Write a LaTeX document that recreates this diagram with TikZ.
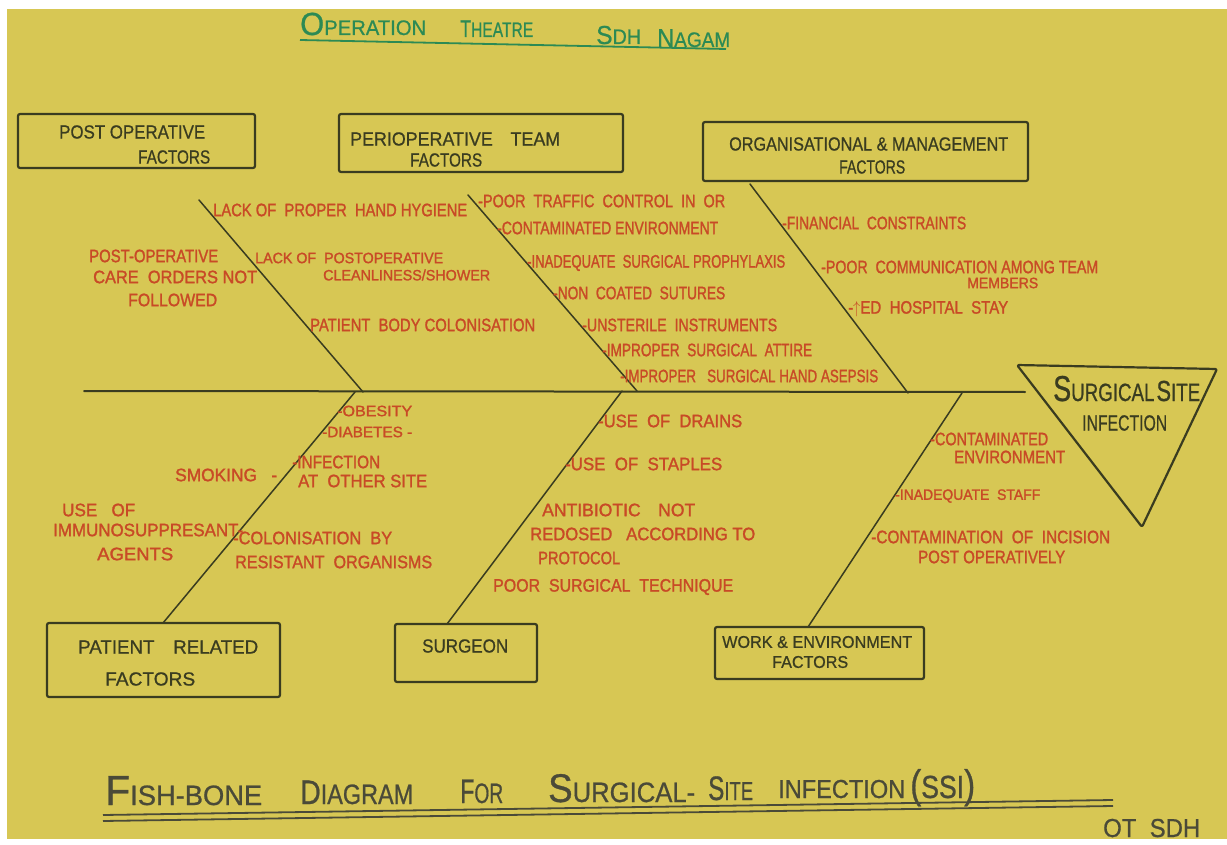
\documentclass[tikz,border=0pt]{standalone}
\usepackage{fontspec}
\usepackage{graphicx}
\setmainfont{Liberation Sans}
\newfontfamily\markerfont{Liberation Sans}[FakeBold=1.6]
\newfontfamily\penfont{Liberation Sans}[FakeBold=0.8]
\definecolor{paper}{RGB}{215,199,84}
\definecolor{redink}{RGB}{200,74,38}
\definecolor{ink}{RGB}{58,60,32}
\definecolor{greenink}{RGB}{44,138,84}
\definecolor{grayink}{RGB}{74,74,56}
\newcommand\fw[2]{\resizebox{#1pt}{\height}{#2}}
\newcommand\fsz[1]{\fontsize{#1}{#1}\selectfont}
\tikzset{
  rt/.style={text=redink, font=\markerfont\fsz{18}, inner sep=0pt, anchor=west},
  rts/.style={rt, font=\markerfont\fsz{15}},
  bt/.style={text=ink, font=\penfont\fsz{19}, inner sep=0pt, anchor=west},
  bx/.style={draw=ink, line width=2.2pt, rounded corners=2pt, line join=round},
  bone/.style={draw=ink, line width=1.5pt, line cap=round},
  spine/.style={draw=ink, line width=2pt, line cap=round},
  ttl/.style={inner sep=0pt, anchor=base west, font=\penfont}
}
\begin{document}
\begin{tikzpicture}[x=1pt,y=-1pt]
\useasboundingbox (0,0) rectangle (1227,845);
\fill[white] (0,0) rectangle (1227,845);
\fill[paper] (7,9) rectangle (1227,839);

% top title
\node[ttl, text=greenink] (h1) at (300,35) {\fw{126}{{\fsz{32}O}{\fsz{21}PERATION}}};
\node[ttl, text=greenink] (h2) at (460,37) {\fw{73}{{\fsz{24}T}{\fsz{21}HEATRE}}};
\node[ttl, text=greenink] (h3) at (596,44) {\fw{45}{{\fsz{26}S}{\fsz{21}DH}}};
\node[ttl, text=greenink] (h4) at (657,47) {\fw{73}{{\fsz{26}N}{\fsz{21}AGAM}}};
\coordinate (ul1) at (300,40);
\coordinate (ul2) at (726,49);
\draw[greenink, line width=1.8pt] (ul1) -- (ul2);

% boxes
\node[bx, minimum width=237pt, minimum height=54pt] (bpost) at (136.5,141) {};
\node[bx, minimum width=284pt, minimum height=58pt] (bperi) at (481,143) {};
\node[bx, minimum width=325pt, minimum height=59pt] (borg) at (865.5,151.5) {};
\node[bx, minimum width=233pt, minimum height=74pt] (bpat) at (163.5,660) {};
\node[bx, minimum width=142pt, minimum height=58pt] (bsur) at (466,653) {};
\node[bx, minimum width=209pt, minimum height=52pt] (bwork) at (819.5,653) {};

\node[bt] (l1a) at (59,132) {\fw{146}{POST OPERATIVE}};
\node[bt] (l1b) at (138,157) {\fw{72}{FACTORS}};
\node[bt] (l2a) at (350,139) {\fw{210}{PERIOPERATIVE\quad TEAM}};
\node[bt] (l2b) at (410,160) {\fw{72}{FACTORS}};
\node[bt] (l3a) at (729,144) {\fw{279}{ORGANISATIONAL \& MANAGEMENT}};
\node[bt] (l3b) at (839,167) {\fw{66}{FACTORS}};
\node[bt] (l4a) at (78,647) {\fw{180}{PATIENT\quad RELATED}};
\node[bt] (l4b) at (105,679) {\fw{90}{FACTORS}};
\node[bt] (l5a) at (422,646) {\fw{86}{SURGEON}};
\node[bt, font=\penfont\fsz{17}] (l6a) at (722,642) {\fw{190}{WORK \& ENVIRONMENT}};
\node[bt, font=\penfont\fsz{17}] (l6b) at (772,662) {\fw{76}{FACTORS}};

% head triangle
\coordinate (tA) at (1017,365);
\coordinate (tB) at (1217,369);
\coordinate (tC) at (1142,527);
\draw[bx] (tA) -- (tB) -- (tC) -- cycle;
\node[ttl, text=ink] (hd1) at (1053,401) {\fw{147}{{\fsz{36}S}{\fsz{25}URGICAL}\ {\fsz{29}S}{\fsz{25}ITE}}};
\node[bt, font=\penfont\fsz{22}] (hd2) at (1082,423) {\fw{85}{INFECTION}};

% spine and bones
\coordinate (spL) at (84,391);
\coordinate (spR) at (1025,392);
\draw[spine] (spL) -- (spR);
\coordinate (b1t) at (199,200); \coordinate (b1s) at (363,392);
\coordinate (b2t) at (468,195); \coordinate (b2s) at (637,391);
\coordinate (b3t) at (750,184); \coordinate (b3s) at (908,393);
\coordinate (b4s) at (355,392); \coordinate (b4e) at (163,623);
\coordinate (b5s) at (622,391); \coordinate (b5e) at (447,624);
\coordinate (b6s) at (962,393); \coordinate (b6e) at (808,627);
\draw[bone] (b1t) -- (b1s);
\draw[bone] (b2t) -- (b2s);
\draw[bone] (b3t) -- (b3s);
\draw[bone] (b4s) -- (b4e);
\draw[bone] (b5s) -- (b5e);
\draw[bone] (b6s) -- (b6e);

% post operative causes
\node[rt] (c11) at (213,210) {\fw{254}{LACK OF\ \ PROPER\ \ HAND HYGIENE}};
\node[rt] (c12a) at (89,256) {\fw{129}{POST-OPERATIVE}};
\node[rt] (c12b) at (93,277) {\fw{164}{CARE\ \ ORDERS NOT}};
\node[rt] (c12c) at (128,300) {\fw{89}{FOLLOWED}};
\node[rts] (c13a) at (255,258) {\fw{188}{LACK OF\ \ POSTOPERATIVE}};
\node[rts] (c13b) at (323,275) {\fw{167}{CLEANLINESS/SHOWER}};
\node[rt] (c14) at (310,325) {\fw{225}{PATIENT\ \ BODY COLONISATION}};

% perioperative team causes
\node[rt] (c21) at (478,201) {\fw{247}{-POOR\ \ TRAFFIC\ \ CONTROL\ \ IN\ \ OR}};
\node[rt] (c22) at (497,228) {\fw{221}{-CONTAMINATED ENVIRONMENT}};
\node[rt] (c23) at (527,263) {\fw{258}{-INADEQUATE\ \ SURGICAL PROPHYLAXIS}};
\node[rt] (c24) at (553,293) {\fw{172}{-NON\ \ COATED\ \ SUTURES}};
\node[rt] (c25) at (582,325) {\fw{195}{-UNSTERILE\ \ INSTRUMENTS}};
\node[rt] (c26) at (602,350) {\fw{210}{-IMPROPER\ \ SURGICAL\ \ ATTIRE}};
\node[rt] (c27) at (620,376) {\fw{258}{-IMPROPER\ \ \ SURGICAL HAND ASEPSIS}};

% organisational causes
\node[rt] (c31) at (782,223) {\fw{184}{-FINANCIAL\ \ CONSTRAINTS}};
\node[rt] (c32a) at (821,267) {\fw{277}{-POOR\ \ COMMUNICATION AMONG TEAM}};
\node[rts] (c32b) at (967,283) {\fw{71}{MEMBERS}};
\node[rt] (c33) at (848,309) {\fw{160}{-$\uparrow$ED\ \ HOSPITAL\ \ STAY}};

% patient related causes
\node[rts] (c41) at (337,411) {\fw{75}{-OBESITY}};
\node[rts] (c42) at (322,432) {\fw{90}{-DIABETES -}};
\node[rt] (c43) at (175,475) {\fw{102}{SMOKING\ \ \ -}};
\node[rt] (c44a) at (292,462) {\fw{88}{-INFECTION}};
\node[rt] (c44b) at (298,481) {\fw{129}{AT\ \ OTHER SITE}};
\node[rt] (c45a) at (62,510) {\fw{73}{USE\ \ \ OF}};
\node[rt] (c45b) at (53,530) {\fw{190}{IMMUNOSUPPRESANT-}};
\node[rt] (c45c) at (97,554) {\fw{76}{AGENTS}};
\node[rt] (c46a) at (233,538) {\fw{159}{-COLONISATION\ \ BY}};
\node[rt] (c46b) at (235,562) {\fw{197}{RESISTANT\ \ ORGANISMS}};

% surgeon causes
\node[rt] (c51) at (598,421) {\fw{144}{-USE\ \ OF\ \ DRAINS}};
\node[rt] (c52) at (565,464) {\fw{157}{-USE\ \ OF\ \ STAPLES}};
\node[rt] (c53a) at (542,510) {\fw{153}{ANTIBIOTIC\quad NOT}};
\node[rt] (c53b) at (530,534) {\fw{225}{REDOSED\ \ \ ACCORDING TO}};
\node[rt] (c53c) at (538,558) {\fw{82}{PROTOCOL}};
\node[rt] (c54) at (493,587) {\fw{240}{POOR\ \ SURGICAL\ \ TECHNIQUE}};

% work and environment causes
\node[rt] (c61a) at (930,439) {\fw{118}{-CONTAMINATED}};
\node[rt] (c61b) at (954,457) {\fw{111}{ENVIRONMENT}};
\node[rts] (c62) at (895,496) {\fw{145}{-INADEQUATE\ \ STAFF}};
\node[rt] (c63a) at (871,537) {\fw{239}{-CONTAMINATION\ \ OF\ \ INCISION}};
\node[rt] (c63b) at (918,557) {\fw{147}{POST OPERATIVELY}};

% bottom title
\node[ttl, text=grayink] (f1) at (105,805) {\fw{157}{{\fsz{42}F}{\fsz{28}ISH-BONE}}};
\node[ttl, text=grayink] (f2) at (300,804) {\fw{113}{{\fsz{34}D}{\fsz{28}IAGRAM}}};
\node[ttl, text=grayink] (f3) at (460,803) {\fw{43}{{\fsz{34}F}{\fsz{28}OR}}};
\node[ttl, text=grayink] (f4) at (548,802) {\fw{147}{{\fsz{40}S}{\fsz{28}URGICAL-}}};
\node[ttl, text=grayink] (f5) at (708,800) {\fw{45}{{\fsz{34}S}{\fsz{26}ITE}}};
\node[ttl, text=grayink] (f6) at (778,798) {\fw{127}{{\fsz{26}INFECTION}}};
\node[ttl, text=grayink] (f7) at (910,798) {\fw{65}{{\fsz{40}(}{\fsz{32}SSI}{\fsz{40})}}};
\coordinate (dl1) at (103,815); \coordinate (dl2) at (1113,800);
\coordinate (dl3) at (103,821); \coordinate (dl4) at (1113,806);
\draw[grayink, line width=1.8pt] (dl1) -- (dl2);
\draw[grayink, line width=1.8pt] (dl3) -- (dl4);
\node[ttl, text=grayink] (ot) at (1103,837) {\fw{97}{{\fsz{26}OT\ \ SDH}}};
\end{tikzpicture}
\end{document}
